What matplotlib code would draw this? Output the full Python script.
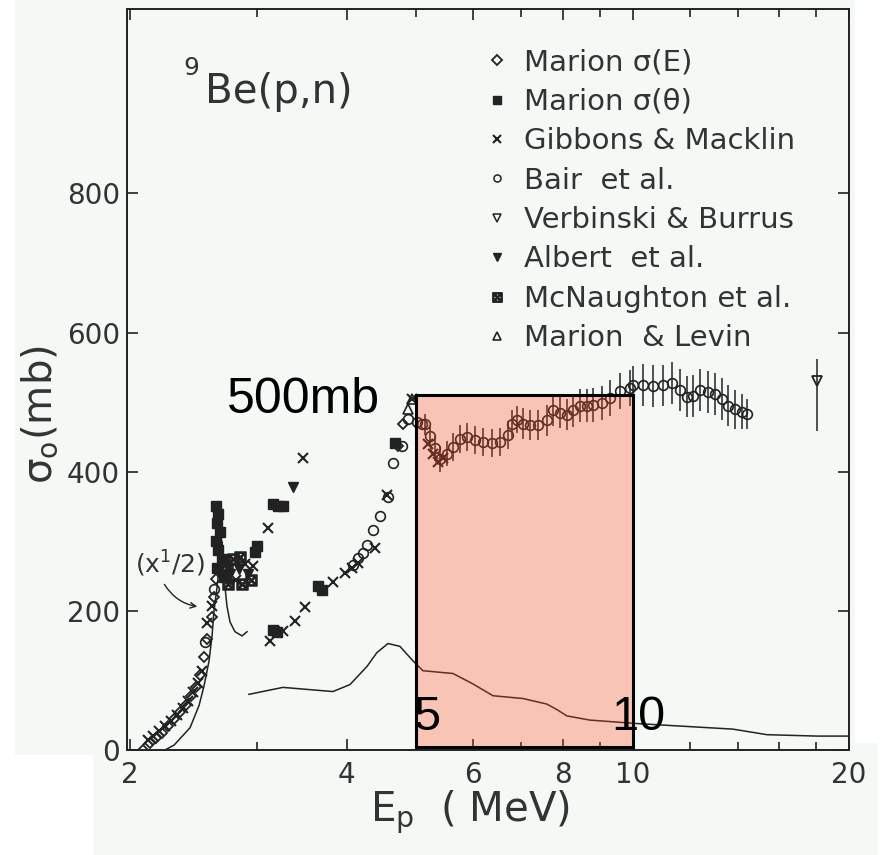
import matplotlib.pyplot as plt
from matplotlib.patches import Rectangle
from matplotlib.ticker import NullFormatter

# calculated curve (x1/2), low energy
calc1_E = [2.236, 2.302, 2.423, 2.494, 2.534, 2.575, 2.600, 2.616, 2.642, 2.667,
           2.685, 2.710, 2.727, 2.754, 2.798, 2.862, 2.908]
calc1_sig = [0, 7, 32, 64, 92, 128, 164, 200, 234, 274, 300, 235, 207, 184, 170, 164, 170]

# broad calculated curve
calc2_E = [2.926, 3.263, 3.829, 4.044, 4.270, 4.409, 4.567, 4.745, 4.950, 5.108,
           5.350, 5.624, 5.996, 6.393, 7.037, 7.599, 7.850, 8.101, 8.720, 10.14,
           13.79, 15.38, 18.04, 20.0]
calc2_sig = [80, 90, 84, 94, 120, 140, 153, 149, 128, 114,
             112, 110, 95, 78, 74, 66, 58, 49, 43, 38,
             30, 22, 20, 20]

# Marion sigma(E)
me_E = [2.084, 2.131, 2.173, 2.215, 2.258, 2.302, 2.346, 2.392, 2.431, 2.470,
        2.502, 2.534, 2.558, 2.600, 2.616, 2.633, 4.715, 4.791]
me_sig = [0, 10, 17, 25, 34, 44, 54, 65, 78, 91,
          108, 134, 160, 191, 220, 246, 437, 468]

# Marion sigma(theta)
mt_E = [2.633, 2.650, 2.642, 2.667, 2.633, 2.650, 2.684, 2.642, 2.702, 2.983,
        3.002, 3.160, 3.210, 3.263, 3.160, 3.201, 3.650, 3.697, 4.670]
mt_sig = [350, 339, 326, 313, 300, 287, 274, 261, 248, 284,
          293, 353, 350, 350, 173, 169, 235, 230, 441]

# Gibbons & Macklin
gm_E = [2.118, 2.152, 2.194, 2.236, 2.280, 2.324, 2.369, 2.407, 2.446, 2.486,
        2.518, 2.558, 2.600, 2.719, 2.807, 2.889, 2.964, 3.110, 3.479, 3.130,
        3.263, 3.391, 3.501, 3.829, 3.979, 4.069, 4.149, 4.381, 4.552, 4.931,
        5.190, 5.270, 5.360, 5.450]
gm_sig = [14, 20, 27, 35, 42, 51, 60, 70, 83, 97,
          114, 183, 207, 267, 245, 267, 264, 319, 420, 156,
          171, 185, 205, 241, 254, 261, 269, 291, 366, 505,
          440, 425, 414, 419]

# Bair et al. (no error bars)
ba_E = [2.542, 2.616, 4.083, 4.149, 4.215, 4.270, 4.353, 4.451, 4.567, 4.640,
        4.776, 4.869, 5.011, 5.092]
ba_sig = [155, 231, 266, 276, 283, 295, 316, 337, 363, 413,
          437, 476, 472, 468]

# Bair et al. with error bars
bx_E = [5.141, 5.224, 5.309, 5.394, 5.517, 5.624, 5.751, 5.881, 6.035, 6.191,
        6.372, 6.538, 6.707, 6.794, 6.903, 7.037, 7.197, 7.383, 7.599, 7.746,
        7.922, 8.101, 8.259, 8.446, 8.637, 8.805, 9.062, 9.297, 9.600, 9.913,
        10.01, 10.33, 10.67, 11.02, 11.34, 11.64, 11.90, 12.13, 12.40, 12.73,
        13.01, 13.31, 13.57, 13.87, 14.19, 14.42]
bx_sig = [468, 451, 434, 418, 426, 436, 447, 450, 446, 443,
          441, 443, 453, 469, 475, 469, 467, 467, 474, 488,
          485, 482, 488, 495, 495, 496, 499, 506, 516, 520,
          524, 525, 523, 524, 527, 517, 508, 509, 517, 515,
          512, 505, 495, 490, 486, 483]
bx_err = [15, 15, 18, 18, 18, 20, 20, 20, 20, 20,
          20, 20, 20, 20, 20, 22, 22, 22, 22, 22,
          22, 22, 24, 24, 24, 24, 24, 26, 26, 26,
          28, 30, 30, 30, 30, 30, 30, 30, 30, 30,
          30, 30, 30, 28, 25, 22]

# Verbinski & Burrus
vb_E = [18.04]
vb_sig = [530]
vb_err_lo = [71]
vb_err_hi = [32]

# Albert et al.
al_E = [2.754, 2.834, 2.917, 3.369]
al_sig = [253, 260, 253, 378]

# McNaughton et al.
mn_E = [2.736, 2.780, 2.843, 2.945, 2.727, 2.862]
mn_sig = [238, 274, 278, 245, 262, 238]

# Marion & Levin
ml_E = [4.931, 4.869]
ml_sig = [505, 490]

W, H = 884, 855
ink = '#222222'
txt = '#333333'
paper = '#f4f9f6'

fig = plt.figure(figsize=(8.84, 8.55), dpi=100)
fig.patch.set_facecolor('white')
fig.add_artist(Rectangle((15 / W, 1 - 755 / H), 840 / W, 755 / H, transform=fig.transFigure,
                         facecolor=paper, edgecolor='none', zorder=-10))
fig.add_artist(Rectangle((93 / W, 0), 784 / W, 112 / H, transform=fig.transFigure,
                         facecolor=paper, edgecolor='none', zorder=-10))

ax = fig.add_axes([127 / W, 1 - 750 / H, 722 / W, 741 / H])
ax.set_facecolor('none')
ax.set_xscale('log')
ax.set_xlim(1.98, 20)
ax.set_ylim(0, 1065)

# curves
ax.plot(calc1_E, calc1_sig, color=ink, lw=1.1, zorder=2)
ax.plot(calc2_E, calc2_sig, color=ink, lw=1.1, zorder=2)

# data sets
h1, = ax.plot(me_E, me_sig, ls='none', marker='D', ms=5.5, mfc='none', mec=ink, mew=1.3, zorder=3)
h2, = ax.plot(mt_E, mt_sig, ls='none', marker='s', ms=6.5, mfc=ink, mec=ink, zorder=3)
h3, = ax.plot(gm_E, gm_sig, ls='none', marker='x', ms=7, mec=ink, mew=1.5, zorder=3)
ax.plot(ba_E, ba_sig, ls='none', marker='o', ms=7, mfc='none', mec=ink, mew=1.2, zorder=3)
ax.errorbar(bx_E, bx_sig, yerr=bx_err, fmt='o', ms=7, mfc='none', mec=ink, mew=1.2,
            ecolor=ink, elinewidth=1.1, capsize=0, zorder=3)
h4, = ax.plot([], [], ls='none', marker='o', ms=6, mfc='none', mec=ink, mew=1.1)
ax.errorbar(vb_E, vb_sig, yerr=[vb_err_lo, vb_err_hi], fmt='v', ms=7, mfc='none', mec=ink,
            mew=1.3, ecolor=ink, elinewidth=1.1, capsize=0, zorder=3)
h5, = ax.plot([], [], ls='none', marker='v', ms=6, mfc='none', mec=ink, mew=1.1)
h6, = ax.plot(al_E, al_sig, ls='none', marker='v', ms=7, mfc=ink, mec=ink, zorder=3)
h7, = ax.plot(mn_E, mn_sig, ls='none', marker=r'$\boxtimes$', ms=8, mfc=ink, mec=ink, zorder=3)
h8, = ax.plot(ml_E, ml_sig, ls='none', marker='^', ms=7, mfc='none', mec=ink, mew=1.2, zorder=3)

# highlight box 5-10 MeV
ax.add_patch(Rectangle((5, 5), 5, 505, facecolor='#ff4a22', alpha=0.3, edgecolor='none', zorder=5))
ax.add_patch(Rectangle((5, 5), 5, 505, fill=False, edgecolor='black', lw=2.2, zorder=6))

# axes styling
ax.set_xticks([2, 4, 6, 8, 10, 20])
ax.set_xticklabels(['2', '4', '6', '8', '10', '20'])
ax.set_xticks([3, 5, 7, 9, 12, 14, 16, 18], minor=True)
ax.xaxis.set_minor_formatter(NullFormatter())
ax.set_yticks([0, 200, 400, 600, 800])
ax.tick_params(which='both', direction='in', top=True, right=True, colors=ink,
               labelcolor=txt, labelsize=20, width=1.2)
ax.tick_params(which='major', length=8)
ax.tick_params(which='minor', length=6)
ax.tick_params(axis='x', pad=8)
ax.tick_params(axis='y', pad=5)
for s in ax.spines.values():
    s.set_color(ink)
    s.set_linewidth(1.4)

# legend
labels = ['Marion σ(E)', 'Marion σ(θ)', 'Gibbons & Macklin', 'Bair  et al.',
          'Verbinski & Burrus', 'Albert  et al.', 'McNaughton et al.', 'Marion  & Levin']
leg = ax.legend([h1, h2, h3, h4, h5, h6, h7, h8], labels, loc='upper left',
                bbox_to_anchor=(472 / W, 1 - 34 / H), bbox_transform=fig.transFigure,
                frameon=False, fontsize=21, borderpad=0, handlelength=0.7,
                handletextpad=0.6, labelspacing=0.39, markerscale=0.85)
for t in leg.get_texts():
    t.set_color(txt)

# title and labels
fig.text(183 / W, 1 - 75 / H, '9', fontsize=18, color=txt, ha='left', va='baseline')
fig.text(205 / W, 1 - 103 / H, 'Be(p,n)', fontsize=29, color=txt, ha='left', va='baseline')
fig.text(40 / W, 1 - 415 / H, 'σ$_\\mathregular{o}$(mb)', fontsize=29, color=txt,
         rotation=90, ha='center', va='center')
fig.text(470 / W, 1 - 812 / H, 'E$_\\mathregular{p}$  ( MeV)', fontsize=29, color=txt,
         ha='center', va='center')

# (x1/2) note with arrow
fig.text(135 / W, 1 - 573 / H, '(x$^\\mathregular{1}$/2)', fontsize=18, color=txt,
         ha='left', va='baseline')
ax.annotate('', xy=(200 / W, 1 - 607 / H), xytext=(163 / W, 1 - 582 / H),
            xycoords='figure fraction', textcoords='figure fraction',
            arrowprops=dict(arrowstyle='->', color=ink, lw=1.0, connectionstyle='arc3,rad=0.25'))

# overlay annotations
fig.text(227 / W, 1 - 413 / H, '500mb', fontsize=36, family='Liberation Sans',
         color='black', ha='left', va='baseline', zorder=10)
fig.text(413 / W, 1 - 730 / H, '5', fontsize=35, family='Liberation Sans',
         color='black', ha='left', va='baseline', zorder=10)
fig.text(638 / W, 1 - 730 / H, '10', fontsize=35, family='Liberation Sans',
         color='black', ha='center', va='baseline', zorder=10)

fig.savefig('out.png', dpi=100)
